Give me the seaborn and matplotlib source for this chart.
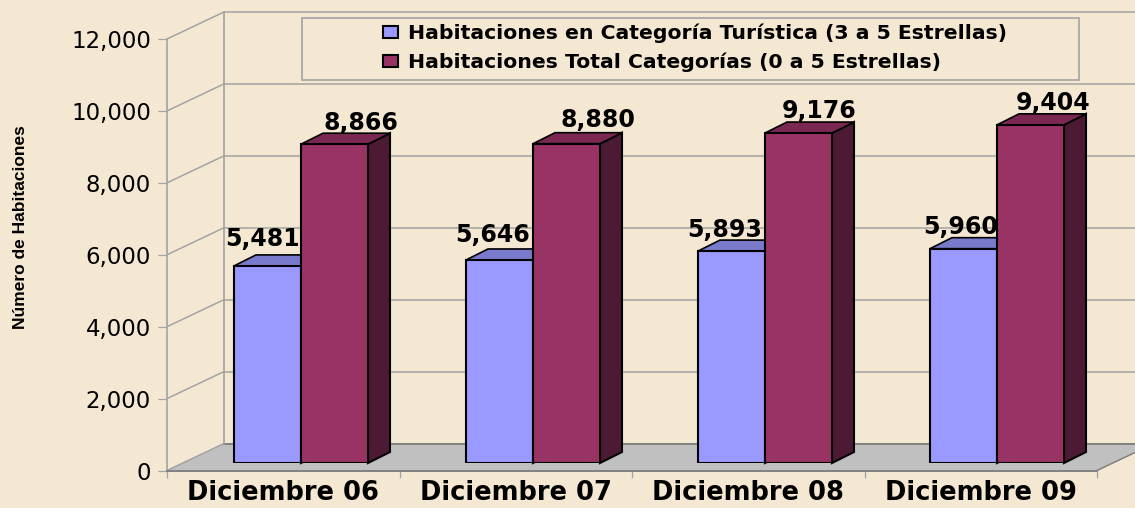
import matplotlib
matplotlib.use("Agg")
import matplotlib.pyplot as plt
from matplotlib.patches import Polygon, Rectangle
from matplotlib.ticker import StrMethodFormatter
import pandas as pd
import seaborn as sns

# ---- data
categories = ["Diciembre 06", "Diciembre 07", "Diciembre 08", "Diciembre 09"]
turistica = [5481, 5646, 5893, 5960]
total = [8866, 8880, 9176, 9404]
serie_turistica = "Habitaciones en Categoría Turística (3 a 5 Estrellas)"
serie_total = "Habitaciones Total Categorías (0 a 5 Estrellas)"
y_ticks = [0, 2000, 4000, 6000, 8000, 10000, 12000]
y_title = "Número de Habitaciones"

# ---- style
W, H = 1135, 508
BG = "#F5E8D2"
GRID = "#A3A3A3"
FLOOR = "#C0C0C0"
FRONT = {serie_turistica: "#9999FF", serie_total: "#993366"}
TOP = {serie_turistica: "#7A7ACC", serie_total: "#7A2852"}
SIDE = {serie_turistica: "#4D4D80", serie_total: "#4D1A33"}
LABEL_DX = {serie_turistica: [-5, -7, -7, -3], serie_total: [26, 31, 21, 23]}
LABEL_DY = {serie_turistica: [27, 25, 21, 22], serie_total: [21, 24, 22, 22]}

sns.set_style("white")
plt.rcParams["font.family"] = ["DejaVu Sans"]

df = pd.DataFrame({
    "mes": categories * 2,
    "habitaciones": turistica + total,
    "serie": [serie_turistica] * len(turistica) + [serie_total] * len(total),
})

fig = plt.figure(figsize=(W / 100, H / 100), dpi=100, facecolor=BG)


def rect(left, top, right, bottom):
    return [left / W, 1 - bottom / H, (right - left) / W, (bottom - top) / H]


# ---- frame: axis, walls, floor
ax = fig.add_axes(rect(167, 39, 1097, 470.5), facecolor="none", zorder=1)
ax.set_xlim(-0.5, 3.5)
ax.set_ylim(0, 12000)
px_x = 4 / 930
px_y = 12000 / 431.5
wall_dx, wall_dy = 57 * px_x, 27 * px_y

ax.add_patch(Polygon(
    [(-0.5, 0), (-0.5 + wall_dx, wall_dy), (3.5 + wall_dx, wall_dy), (3.5, 0)],
    closed=True, facecolor=FLOOR, edgecolor="none", clip_on=False, zorder=1))
for v in y_ticks[1:]:
    ax.plot([-0.5, -0.5 + wall_dx], [v, v + wall_dy], color=GRID, lw=1.1,
            clip_on=False, zorder=1.5)
    ax.plot([-0.5 + wall_dx, 3.5 + wall_dx], [v + wall_dy, v + wall_dy],
            color=GRID, lw=1.1, clip_on=False, zorder=1.5)
ax.plot([-0.5, -0.5 + wall_dx], [0, wall_dy], color=GRID, lw=1.1, clip_on=False, zorder=1.5)
ax.plot([3.5, 3.5 + wall_dx], [0, wall_dy], color="#808080", lw=1.1, clip_on=False, zorder=1.5)
ax.plot([-0.5 + wall_dx, 3.5 + wall_dx], [wall_dy, wall_dy], color="#808080", lw=1.4,
        clip_on=False, zorder=1.5)
ax.plot([-0.5 + wall_dx, -0.5 + wall_dx], [wall_dy, 12000 + wall_dy], color=GRID, lw=1.2,
        clip_on=False, zorder=1.5)

for s in ["top", "right"]:
    ax.spines[s].set_visible(False)
ax.spines["left"].set_color(GRID)
ax.spines["left"].set_linewidth(1.2)
ax.spines["bottom"].set_color("#808080")
ax.spines["bottom"].set_linewidth(1.4)

ax.set_yticks(y_ticks)
ax.yaxis.set_major_formatter(StrMethodFormatter("{x:,.0f}"))
ax.tick_params(axis="y", length=6.5, width=0.9, color=GRID, pad=5, labelsize=16.5,
               labelcolor="black", left=True)
ax.set_xticks(range(len(categories)))
ax.set_xticklabels(categories, fontsize=18.5, fontweight="bold", color="black")
ax.tick_params(axis="x", which="major", length=0, pad=7)
ax.set_xticks([-0.5, 0.5, 1.5, 2.5, 3.5], minor=True)
ax.tick_params(axis="x", which="minor", length=5, width=0.9, color=GRID, bottom=True)
ax.set_xlabel("")
ax.set_ylabel("")

fig.text(21 / W, 1 - 227.5 / H, y_title, rotation=90, ha="center", va="center",
         family="Liberation Sans", fontweight="bold", fontsize=12.5, color="black")

# ---- bars
ax_bars = fig.add_axes(rect(185, 31.5, 1113, 463), facecolor="none", zorder=2)
sns.barplot(data=df, x="mes", y="habitaciones", hue="serie",
            order=categories, hue_order=[serie_turistica, serie_total],
            palette=FRONT, saturation=1, width=134 / 232, gap=0,
            edgecolor="black", linewidth=1.5, ax=ax_bars, legend=True, zorder=5)
ax_bars.set_ylim(0, 12000)
ax_bars.set_xlim(-0.5, 3.5)
handles, labels = ax_bars.get_legend_handles_labels()
ax_bars.get_legend().remove()
ax_bars.axis("off")

bx = 4 / 928
by = 12000 / 431.5
depth_x, depth_y = 22 * bx, 11 * by
for container, name, z in zip(ax_bars.containers, [serie_turistica, serie_total], [3, 6]):
    for i, bar in enumerate(container):
        x0, w, h = bar.get_x(), bar.get_width(), bar.get_height()
        x1 = x0 + w
        bar.set_zorder(z + 1)
        ax_bars.add_patch(Polygon(
            [(x1, 0), (x1 + depth_x, depth_y), (x1 + depth_x, h + depth_y), (x1, h)],
            closed=True, facecolor=SIDE[name], edgecolor="black", lw=1.5, zorder=z,
            clip_on=False))
        ax_bars.add_patch(Polygon(
            [(x0, h), (x0 + depth_x, h + depth_y), (x1 + depth_x, h + depth_y), (x1, h)],
            closed=True, facecolor=TOP[name], edgecolor="black", lw=1.2, zorder=z,
            clip_on=False))
        ax_bars.annotate(f"{int(h):,}", xy=(x0 + w / 2, h),
                         xytext=(LABEL_DX[name][i], LABEL_DY[name][i]),
                         textcoords="offset pixels", ha="center", va="center",
                         fontsize=17, fontweight="bold", color="black", zorder=10,
                         annotation_clip=False)

# ---- legend
fig.add_artist(Rectangle((302 / W, 1 - 80 / H), 777 / W, 62 / H, transform=fig.transFigure,
                         facecolor="none", edgecolor=GRID, lw=1.2, zorder=3))
leg = fig.legend(handles, labels, loc="center left",
                 bbox_to_anchor=(376 / W, 1 - 48 / H), frameon=False,
                 prop={"weight": "bold", "size": 14.7},
                 handlelength=0.75, handleheight=0.5, handletextpad=0.45,
                 labelspacing=0.47, borderpad=0.35, borderaxespad=0)
leg.set_zorder(4)
for t in leg.get_texts():
    t.set_color("black")

fig.savefig("out.png", dpi=100, facecolor=BG)
